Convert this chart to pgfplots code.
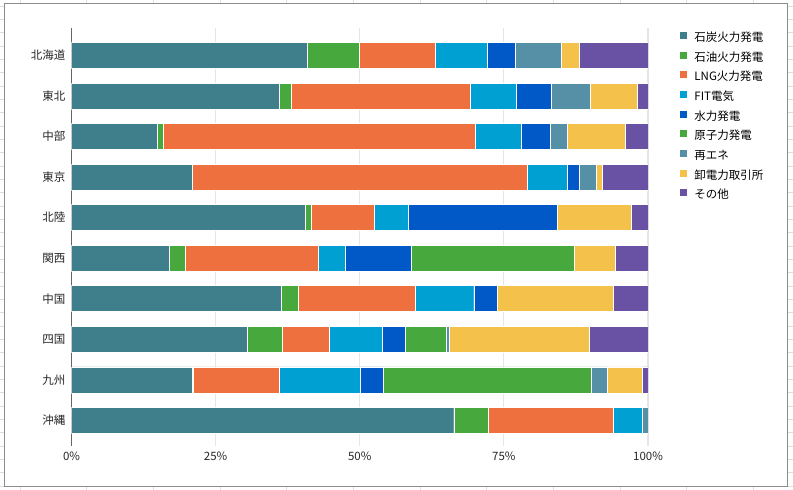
\documentclass[border=0pt]{standalone}
\usepackage{fontspec}
\setmainfont{Noto Sans CJK JP}
\usepackage{pgfplots}
\pgfplotsset{compat=1.18}
\definecolor{cCoal}{HTML}{3E7F8B}
\definecolor{cOil}{HTML}{47A83D}
\definecolor{cLNG}{HTML}{EF703F}
\definecolor{cFIT}{HTML}{00A0D2}
\definecolor{cHydro}{HTML}{0059C7}
\definecolor{cNuc}{HTML}{47A83D}
\definecolor{cRen}{HTML}{5690A7}
\definecolor{cWh}{HTML}{F4C14B}
\definecolor{cOth}{HTML}{6951A4}
\begin{document}
\begin{tikzpicture}[x=1pt,y=1pt]
\path[use as bounding box] (0,0) rectangle (793,490);
\foreach \k in {0,...,11} \draw[black!13,line width=0.6pt] ({20+66.667*\k},0) -- ({20+66.667*\k},490);
\foreach \k in {0,...,36} \draw[black!13,line width=0.6pt] (0,{483.9-13.333*\k}) -- (793,{483.9-13.333*\k});
\filldraw[fill=white, draw=black!45, line width=0.8pt] (4.5,3.3) rectangle (787.7,486.7);
\begin{axis}[
  at={(71.5pt,44pt)}, anchor=south west,
  scale only axis, width=576.5pt, height=418pt,
  xbar stacked, bar width=26pt,
  xmin=0, xmax=100, ymin=-0.678, ymax=9.634, y dir=reverse,
  ytick={0,...,9},
  yticklabels={北海道,東北,中部,東京,北陸,関西,中国,四国,九州,沖縄},
  xtick={0,25,50,75,100},
  xticklabels={0\%,25\%,50\%,75\%,100\%},
  axis lines*=left,
  x axis line style={draw=none},
  y axis line style={draw=black!60, line width=0.8pt},
  major tick length=0pt,
  xmajorgrids, major grid style={black!10, line width=1.2pt},
  tick label style={font=\fontsize{11.5}{13}\selectfont, text=black!85},
  yticklabel style={xshift=-2.7pt},
  xticklabel style={yshift=-2.5pt},
  /pgf/number format/assume math mode=true,
  every axis plot/.append style={draw=white, line width=0.4pt},
  legend style={at={(axis description cs:1.0508,0.9955)}, anchor=north west,
    draw=none, fill=none, font=\fontsize{11.5}{13}\selectfont,
    nodes={inner sep=0pt, text height=8.5pt, text depth=2.5pt},
    row sep=7.66pt,
    /tikz/every odd column/.append style={column sep=7pt}},
  legend cell align=left,
  legend image code/.code={\fill[#1, draw=none] (0pt,-0.5pt) rectangle (7pt,6.5pt);},
]
\addplot[fill=cCoal] coordinates {(40.9,0) (36.05,1) (14.89,2) (20.96,3) (40.56,4) (16.91,5) (36.34,6) (30.44,7) (20.96,8) (66.3,9)};
\addplot[fill=cOil] coordinates {(9.0,0) (2.02,1) (1.04,2) (0,3) (0.98,4) (2.83,5) (3.01,6) (6.13,7) (0.1,8) (6.0,9)};
\addplot[fill=cLNG] coordinates {(13.15,0) (31.11,1) (54.06,2) (58.04,3) (10.99,4) (23.07,5) (20.23,6) (8.1,7) (14.99,8) (21.68,9)};
\addplot[fill=cFIT] coordinates {(9.02,0) (7.98,1) (7.98,2) (7.07,3) (5.9,4) (4.63,5) (10.19,6) (9.31,7) (14.11,8) (5.02,9)};
\addplot[fill=cHydro] coordinates {(4.93,0) (6.01,1) (5.03,2) (1.96,3) (25.79,4) (11.5,5) (4.04,6) (3.92,7) (3.93,8) (0,9)};
\addplot[fill=cNuc] coordinates {(0,0) (0,1) (0,2) (0,3) (0,4) (28.22,5) (0,6) (7.11,7) (36.02,8) (0,9)};
\addplot[fill=cRen] coordinates {(7.97,0) (6.77,1) (2.95,2) (2.95,3) (0,4) (0,5) (0,6) (0.47,7) (2.83,8) (1.0,9)};
\addplot[fill=cWh] coordinates {(3.06,0) (8.15,1) (10.05,2) (1.1,3) (12.83,4) (7.12,5) (20.12,6) (24.4,7) (6.02,8) (0,9)};
\addplot[fill=cOth] coordinates {(11.97,0) (1.91,1) (4.0,2) (7.92,3) (2.95,4) (5.72,5) (6.07,6) (10.12,7) (1.04,8) (0,9)};
\legend{石炭火力発電,石油火力発電,LNG火力発電,FIT電気,水力発電,原子力発電,再エネ,卸電力取引所,その他}
\end{axis}
\end{tikzpicture}
\end{document}
